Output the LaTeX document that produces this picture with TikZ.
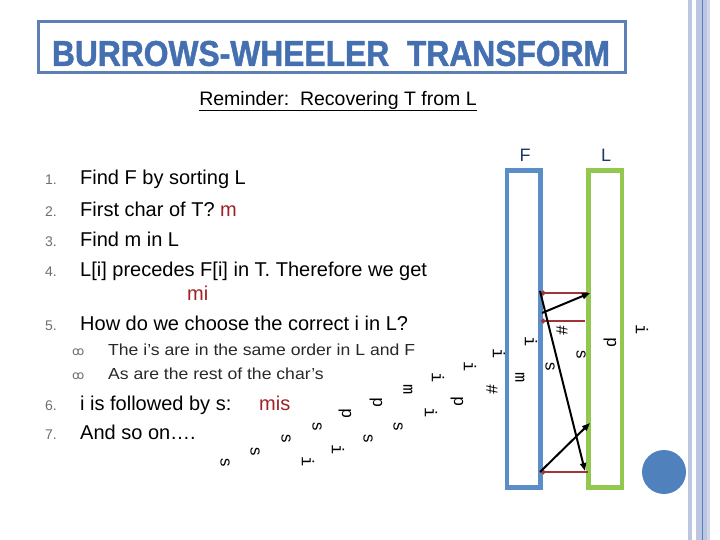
\documentclass[tikz,border=0pt]{standalone}
\usepackage{fontspec}
\setmainfont{Liberation Sans}
\newfontfamily\monoL{Liberation Mono}
\newfontfamily\dejavu{DejaVu Sans}
\newfontfamily\titlefont{Liberation Sans Bold}[FakeBold=1.5]
\usetikzlibrary{arrows.meta}
\definecolor{titleblue}{RGB}{68,112,178}
\definecolor{boxblue}{RGB}{92,128,180}
\definecolor{fblue}{RGB}{91,141,201}
\definecolor{lgreen}{RGB}{146,200,80}
\definecolor{navy}{RGB}{31,56,100}
\definecolor{darkred}{RGB}{160,32,36}
\definecolor{linered}{RGB}{160,52,56}
\definecolor{numgray}{RGB}{110,110,110}
\definecolor{subtext}{RGB}{40,40,40}
\definecolor{circblue}{RGB}{79,129,189}
\definecolor{stripe}{RGB}{187,198,224}
\definecolor{stripedark}{RGB}{92,124,184}
\begin{document}
\begin{tikzpicture}[x=1pt,y=-1pt,
  mainline/.style={anchor=base west, inner sep=0pt, font=\fontsize{20}{24}\selectfont},
  numlabel/.style={anchor=base west, inner sep=0pt, text=numgray, font=\fontsize{14}{16}\selectfont},
  subline/.style={anchor=base west, inner sep=0pt, text=subtext, font=\fontsize{16}{19}\selectfont},
  bul/.style={anchor=base west, inner sep=0pt, text=numgray, font=\dejavu\fontsize{12}{14}\selectfont},
  ch/.style={rotate=-90, inner sep=0pt, font=\monoL\fontsize{17}{20}\selectfont},
  colbox/.style={draw, line width=4.5pt, minimum width=33.5pt, minimum height=317pt, inner sep=0pt},
  redline/.style={draw=linered, line width=2pt, {Circle[length=4.5pt]}-},
  blackarrow/.style={draw=black, line width=2pt, -{Triangle[length=8pt,width=6pt]}},
  collabel/.style={text=navy, inner sep=0pt, font=\fontsize{18}{20}\selectfont}
]
\useasboundingbox (0,0) rectangle (720,540);
% right stripes
\fill[stripe] (688,0) rectangle (692,540);
\fill[stripe] (696,0) rectangle (710,540);
\fill[stripe!70!white] (707,0) rectangle (710,540);
\draw[stripedark, line width=1.2pt] (702.5,0) -- (702.5,540);
% title
\draw[boxblue, line width=3pt] (38,22) rectangle (625,73);
\node[inner sep=0pt, text=titleblue] (title) at (331,53.5)
  {\resizebox{558pt}{25pt}{\titlefont BURROWS-WHEELER\ \ TRANSFORM}};
\node[inner sep=0pt, font=\fontsize{19.5}{22}\selectfont] (sub) at (338,101)
  {\underline{Reminder:\ \ Recovering T from L}};
% list
\node[numlabel] (n1) at (45,185) {1.};
\node[mainline] (t1) at (80,185) {Find F by sorting L};
\node[numlabel] (n2) at (45,216) {2.};
\node[mainline] (t2) at (80,216) {First char of T? \textcolor{darkred}{m}};
\node[numlabel] (n3) at (45,246) {3.};
\node[mainline] (t3) at (80,246) {Find m in L};
\node[numlabel] (n4) at (45,276) {4.};
\node[mainline] (t4) at (80,276) {L[i] precedes F[i] in T. Therefore we get};
\node[mainline, text=darkred] (t4b) at (187,300) {mi};
\node[numlabel] (n5) at (45,330) {5.};
\node[mainline] (t5) at (80,330) {How do we choose the correct i in L?};
\node[bul] (b1) at (72,355.5) {ꝏ};
\node[subline] (s1) at (108,355.5) {\scalebox{1.1}[1]{The i's are in the same order in L and F}};
\node[bul] (b2) at (72,379.5) {ꝏ};
\node[subline] (s2) at (108,379.5) {\scalebox{1.1}[1]{As are the rest of the char's}};
\node[numlabel] (n6) at (45,410) {6.};
\node[mainline] (t6) at (80,410) {i is followed by s:};
\node[mainline, text=darkred] (t6b) at (259,410) {mis};
\node[numlabel] (n7) at (45,439) {7.};
\node[mainline] (t7) at (80,439) {And so on\dots.};
% rotated letters
\node[ch] (c1) at (225,463) {s};
\node[ch] (c2) at (255,452) {s};
\node[ch] (c3) at (286,439) {s};
\node[ch] (c4) at (308,462) {i};
\node[ch] (c5) at (317,427) {s};
\node[ch] (c6) at (338,450) {i};
\node[ch] (c7) at (345,414) {p};
\node[ch] (c8) at (368,439) {s};
\node[ch] (c9) at (376,403) {p};
\node[ch] (c10) at (398,427) {s};
\node[ch] (c11) at (408,390) {m};
\node[ch] (c12) at (431,413) {i};
\node[ch] (c13) at (438,378) {i};
\node[ch] (c14) at (457,402) {p};
\node[ch] (c15) at (470,367) {i};
\node[ch] (c16) at (492,390) {\#};
\node[ch] (c17) at (499,354) {i};
\node[ch] (c18) at (520,378) {m};
\node[ch] (c19) at (531,342) {i};
\node[ch] (c20) at (550,367) {s};
\node[ch] (c21) at (562,331) {\#};
\node[ch] (c22) at (581,355) {s};
\node[ch] (c23) at (610,343) {p};
\node[ch] (c24) at (642,330) {i};
% F and L columns
\node[colbox, draw=fblue] (F) at (523.75,329) {};
\node[colbox, draw=lgreen] (L) at (605.25,329) {};
\node[collabel] (Flab) at (525,155) {F};
\node[collabel] (Llab) at (606,155) {L};
% connector endpoints
\coordinate (f1) at (541,293);
\coordinate (l1) at (588,293);
\coordinate (f2) at (541,321);
\coordinate (l2) at (585,321);
\coordinate (f3) at (541,472);
\coordinate (l3) at (588,472);
\coordinate (aS) at (540,291);
\coordinate (aE) at (585,471);
\coordinate (bS) at (542,313);
\coordinate (bE) at (590,293);
\coordinate (cS) at (540,472);
\coordinate (cE) at (590,423);
\draw[redline] (f1) -- (l1);
\draw[redline] (f2) -- (l2);
\draw[redline] (f3) -- (l3);
\draw[blackarrow] (aS) -- (aE);
\draw[blackarrow] (bS) -- (bE);
\draw[blackarrow] (cS) -- (cE);
% blue dot
\node[circle, fill=circblue, minimum size=44pt, inner sep=0pt] (dot) at (664,472) {};
\end{tikzpicture}
\end{document}
